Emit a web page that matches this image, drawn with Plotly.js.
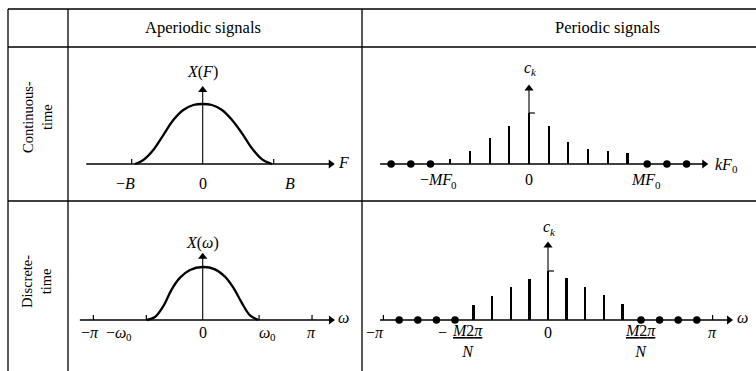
<!DOCTYPE html>
<html>
<head>
<meta charset="utf-8">
<script src="https://cdn.plot.ly/plotly-3.0.1.min.js"></script>
<style>html,body{margin:0;padding:0;background:#fff;}#chart{width:756px;height:371px;}</style>
</head>
<body>
<div id="chart"></div>
<script>
// ---------- DATA ----------
// Aperiodic, continuous-time spectrum X(F) (F in units of B)
const tlF = [-0.953, -0.836, -0.696, -0.555, -0.414, -0.273, -0.132, 0, 0.131, 0.272, 0.413, 0.554, 0.695, 0.836, 0.976];
const tlX = [0, 0.067, 0.233, 0.483, 0.733, 0.9, 0.983, 1, 0.983, 0.9, 0.733, 0.511, 0.26, 0.078, 0];
const tlTicks = [-1, 1];
const tlTickPos = [-1.09, 0, 1.23];
const tlTickText = ['−<i>B</i>', '0', '<i>B</i>'];

// Aperiodic, discrete-time spectrum X(ω) (ω in rad)
const blW = [-1.61, -1.37, -1.13, -0.89, -0.65, -0.365, 0, 0.353, 0.64, 0.88, 1.12, 1.36, 1.60];
const blX = [0, 0.057, 0.264, 0.579, 0.799, 0.943, 1, 0.956, 0.818, 0.61, 0.327, 0.088, 0];
const blTicks = [-3.1416, -1.62, 1.62, 3.1416];
const blTickPos = [-3.25, -2.4, 0, 1.85, 3.14];
const blTickMain = ['−<i>π</i>', '−<i>ω</i>', '0', '<i>ω</i>', '<i>π</i>'];
const blTickSub = ['', '0', '', '0', ''];

// Periodic, continuous-time: Fourier coefficients c_k
const trK = [-4, -3, -2, -1, 0, 1, 2, 3, 4, 5];
const trC = [0.1, 0.25, 0.51, 0.74, 1.0, 0.74, 0.43, 0.29, 0.25, 0.22];
const trZeroK = [-7, -6, -5, 6, 7, 8];
const trTickPos = [-4.62, 0, 5.89];
const trTickMain = ['−<i>MF</i>', '0', '<i>MF</i>'];
const trTickSub = ['0', '', '0'];

// Periodic, discrete-time: c_k
const brK = [-4, -3, -2, -1, 0, 1, 2, 3, 4];
const brC = [0.31, 0.5, 0.67, 0.83, 1.0, 0.85, 0.68, 0.52, 0.33];
const brZeroK = [-8, -7, -6, -5, 5, 6, 7, 8];
const brTicks = [-8.85, 8.85];
const brTickPos = [-9.3, 0, 8.82];
const brTickText = ['−<i>π</i>', '0', '<i>π</i>'];
const brFracPos = [-4.35, 4.95];

const headers = ['Aperiodic signals', 'Periodic signals'];
const rowLabels = ['Continuous-<br>time', 'Discrete-<br>time'];

// ---------- LAYOUT HELPERS ----------
const W = 756, H = 371;
const FONT = 'Liberation Serif, DejaVu Serif, serif';
const LS = 16; // label font size
const SS = 11; // subscript font size
function panel(px0, px1, cx, sx, py0, py1, cy, sy) {
  const common = {visible: false, showgrid: false, zeroline: false, fixedrange: true};
  return {
    x: Object.assign({domain: [px0 / W, px1 / W], range: [(px0 - cx) / sx, (px1 - cx) / sx]}, common),
    y: Object.assign({domain: [1 - py1 / H, 1 - py0 / H], range: [(cy - py1) / sy, (cy - py0) / sy]}, common),
    sx: sx, sy: sy
  };
}
const P1 = panel(70, 355, 202.7, 71, 50, 198, 164, 60);    // top-left
const P2 = panel(365, 752, 529, 19.7, 50, 198, 164, 51);   // top-right
const P3 = panel(70, 355, 202.7, 34.8, 204, 368, 320, 53); // bottom-left
const P4 = panel(365, 752, 548, 18.6, 204, 368, 320, 49);  // bottom-right

function tickTrace(vals, hData, xa, ya) {
  const x = [], y = [];
  vals.forEach(v => { x.push(v, v, null); y.push(0, hData, null); });
  return {type: 'scatter', mode: 'lines', x: x, y: y, xaxis: xa, yaxis: ya,
          line: {color: '#000', width: 1.2}, hoverinfo: 'skip', showlegend: false};
}
// axis lines with arrowhead markers at their ends
function axisTraces(P, xa, ya, x0, x1, y1) {
  const hx = 4 / P.sx, vy = 4 / P.sy;
  return [
    {type: 'scatter', mode: 'lines', x: [x0, x1 - hx], y: [0, 0], xaxis: xa, yaxis: ya,
     line: {color: '#000', width: 1.4}, showlegend: false},
    {type: 'scatter', mode: 'markers', x: [x1 - hx], y: [0], xaxis: xa, yaxis: ya,
     marker: {symbol: 'triangle-right', size: 8, color: '#000'}, showlegend: false},
    {type: 'scatter', mode: 'lines', x: [0, 0], y: [0, y1 - vy], xaxis: xa, yaxis: ya,
     line: {color: '#000', width: 1.1}, showlegend: false},
    {type: 'scatter', mode: 'markers', x: [0], y: [y1 - vy], xaxis: xa, yaxis: ya,
     marker: {symbol: 'triangle-up', size: 8, color: '#000'}, showlegend: false}
  ];
}

const traces = [].concat(
  axisTraces(P1, 'x', 'y', -1.64, 1.86, 1.3),
  axisTraces(P2, 'x2', 'y2', -7.56, 9.1, 1.56),
  axisTraces(P3, 'x3', 'y3', -3.53, 3.8, 1.27),
  axisTraces(P4, 'x4', 'y4', -9.03, 9.95, 1.6),
  [
  // curves
  {type: 'scatter', mode: 'lines', x: tlF, y: tlX, xaxis: 'x', yaxis: 'y',
   line: {color: '#000', width: 2.3, shape: 'spline', smoothing: 1}, showlegend: false},
  {type: 'scatter', mode: 'lines', x: blW, y: blX, xaxis: 'x3', yaxis: 'y3',
   line: {color: '#000', width: 2.3, shape: 'spline', smoothing: 1}, showlegend: false},
  // stems
  {type: 'bar', x: trK, y: trC, width: 0.11, xaxis: 'x2', yaxis: 'y2',
   marker: {color: '#000', line: {width: 0}}, showlegend: false},
  {type: 'bar', x: brK, y: brC, width: 0.12, xaxis: 'x4', yaxis: 'y4',
   marker: {color: '#000', line: {width: 0}}, showlegend: false},
  // zero coefficients (dots)
  {type: 'scatter', mode: 'markers', x: trZeroK, y: trZeroK.map(() => 0), xaxis: 'x2', yaxis: 'y2',
   marker: {color: '#000', size: 7.5}, showlegend: false},
  {type: 'scatter', mode: 'markers', x: brZeroK, y: brZeroK.map(() => 0), xaxis: 'x4', yaxis: 'y4',
   marker: {color: '#000', size: 7.5}, showlegend: false},
  // c0 level marks
  {type: 'scatter', mode: 'lines', x: [0, 0.3], y: [trC[4], trC[4]], xaxis: 'x2', yaxis: 'y2',
   line: {color: '#000', width: 1.2}, showlegend: false},
  {type: 'scatter', mode: 'lines', x: [0, 0.32], y: [brC[4], brC[4]], xaxis: 'x4', yaxis: 'y4',
   line: {color: '#000', width: 1.2}, showlegend: false},
  // axis ticks
  tickTrace(tlTicks, 5 / P1.sy, 'x', 'y'),
  tickTrace(blTicks, 5 / P3.sy, 'x3', 'y3'),
  tickTrace(brTicks, 5 / P4.sy, 'x4', 'y4')
  ]
);

// ---------- ANNOTATIONS ----------
const ann = [];
function label(xa, ya, x, y, text, size, opts) {
  ann.push(Object.assign({xref: xa, yref: ya, x: x, y: y, text: text, showarrow: false,
            font: {family: FONT, size: size || LS, color: '#000'}, borderpad: 0,
            xanchor: 'center', yanchor: 'middle'}, opts || {}));
}
// text with a subscript: main part right-anchored and subscript left-anchored at a junction (dx px right of x)
function subLabel(xa, ya, x, y, main, sub, dx) {
  if (!sub) { label(xa, ya, x, y, main); return; }
  label(xa, ya, x, y, main, LS, {xanchor: 'right', xshift: dx});
  label(xa, ya, x, y, sub, SS, {xanchor: 'left', xshift: dx - 2.5, yshift: -5});
}
// axis names
label('x', 'y', 0, 1.54, '<i>X</i>(<i>F</i>)');
label('x', 'y', 1.98, 0.02, '<i>F</i>');
subLabel('x2', 'y2', 0, 1.9, '<i>c</i>', '<i>k</i>', 3);
subLabel('x2', 'y2', 9.95, 0, '<i>kF</i>', '0', 8);
label('x3', 'y3', 0, 1.45, '<i>X</i>(<i>ω</i>)');
label('x3', 'y3', 4.05, 0.04, '<i>ω</i>');
subLabel('x4', 'y4', 0, 1.9, '<i>c</i>', '<i>k</i>', 3);
label('x4', 'y4', 10.45, 0.06, '<i>ω</i>');

// tick labels
tlTickPos.forEach((v, i) => label('x', 'y', v, -0.32, tlTickText[i]));
blTickPos.forEach((v, i) => subLabel('x3', 'y3', v, -0.23, blTickMain[i], blTickSub[i], i === 1 ? 8 : 4));
trTickPos.forEach((v, i) => subLabel('x2', 'y2', v, -0.31, trTickMain[i], trTickSub[i], i === 0 ? 15 : 11));
brTickPos.forEach((v, i) => label('x4', 'y4', v, -0.245, brTickText[i]));
label('x4', 'y4', brFracPos[0] - 1.3, -0.245, '−');
brFracPos.forEach(v => label('x4', 'y4', v, -0.42, '<u><i>M</i>2<i>π</i></u><br><i>N</i>'));

// headers and row labels
ann.push({xref: 'paper', yref: 'paper', x: 203 / W, y: 1 - 28 / H, text: headers[0], showarrow: false,
          font: {family: FONT, size: 16.5, color: '#000'}, xanchor: 'center', yanchor: 'middle'});
ann.push({xref: 'paper', yref: 'paper', x: 607 / W, y: 1 - 28 / H, text: headers[1], showarrow: false,
          font: {family: FONT, size: 16.5, color: '#000'}, xanchor: 'center', yanchor: 'middle'});
ann.push({xref: 'paper', yref: 'paper', x: 37 / W, y: 1 - 117 / H, text: rowLabels[0], showarrow: false,
          textangle: -90, font: {family: FONT, size: 14.5, color: '#000'}, xanchor: 'center', yanchor: 'middle'});
ann.push({xref: 'paper', yref: 'paper', x: 36 / W, y: 1 - 282 / H, text: rowLabels[1], showarrow: false,
          textangle: -90, font: {family: FONT, size: 14.5, color: '#000'}, xanchor: 'center', yanchor: 'middle'});

// table rules
function hline(py, px0, px1) {
  return {type: 'line', xref: 'paper', yref: 'paper', x0: px0 / W, x1: px1 / W, y0: 1 - py / H, y1: 1 - py / H,
          line: {color: '#000', width: 1.6}};
}
function vline(px, py0, py1) {
  return {type: 'line', xref: 'paper', yref: 'paper', x0: px / W, x1: px / W, y0: 1 - py0 / H, y1: 1 - py1 / H,
          line: {color: '#000', width: 1.3}};
}
const shapes = [hline(9, 8, 756), hline(47, 8, 756), hline(201, 8, 756),
                vline(8, 9, 371), vline(68, 9, 371), vline(362, 9, 371)];

const layout = {
  width: W, height: H, margin: {l: 0, r: 0, t: 0, b: 0},
  paper_bgcolor: '#fff', plot_bgcolor: 'rgba(0,0,0,0)',
  showlegend: false, bargap: 0,
  xaxis: Object.assign({anchor: 'y'}, P1.x), yaxis: Object.assign({anchor: 'x'}, P1.y),
  xaxis2: Object.assign({anchor: 'y2'}, P2.x), yaxis2: Object.assign({anchor: 'x2'}, P2.y),
  xaxis3: Object.assign({anchor: 'y3'}, P3.x), yaxis3: Object.assign({anchor: 'x3'}, P3.y),
  xaxis4: Object.assign({anchor: 'y4'}, P4.x), yaxis4: Object.assign({anchor: 'x4'}, P4.y),
  annotations: ann, shapes: shapes,
  font: {family: FONT, color: '#000'}
};

Plotly.newPlot('chart', traces, layout, {staticPlot: true, displayModeBar: false});
</script>
</body>
</html>
